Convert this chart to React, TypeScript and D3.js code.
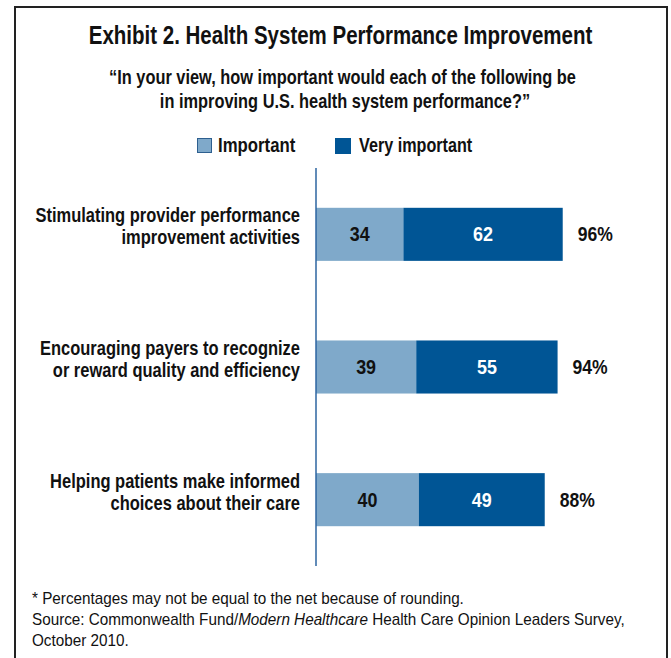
import React from "react";
import * as d3 from "d3";

const categories = [
  ["Stimulating provider performance", "improvement activities"],
  ["Encouraging payers to recognize", "or reward quality and efficiency"],
  ["Helping patients make informed", "choices about their care"],
];
const categoryKeys = ["stim", "encourage", "helping"];
const importantValues = [34, 39, 40];
const veryImportantValues = [62, 55, 49];
const netLabels = ["96%", "94%", "88%"];
const seriesNames = ["Important", "Very important"];

const W = 671;
const H = 658;
const SANS = "'Liberation Sans', Arial, sans-serif";
const LIGHT = "#7fa9ca";
const DARK = "#005595";

type TProps = {
  x: number;
  y: number;
  s?: number;
  size?: number;
  anchor?: "start" | "middle" | "end";
  weight?: string;
  fill?: string;
  children: React.ReactNode;
};

function T({ x, y, s = 0.83, size = 19.5, anchor = "start", weight = "bold", fill = "#111", children }: TProps) {
  return (
    <text
      transform={`translate(${x},${y}) scale(${s},1)`}
      textAnchor={anchor}
      fontFamily={SANS}
      fontWeight={weight}
      fontSize={size}
      fill={fill}
    >
      {children}
    </text>
  );
}

export default function App() {
  const x = d3.scaleLinear().domain([0, 100]).range([316, 573]);
  const y = d3
    .scaleBand<string>()
    .domain(categoryKeys)
    .range([168, 566])
    .paddingInner(0.6)
    .paddingOuter(0.3);
  const bh = y.bandwidth();

  return (
    <svg
      width={W}
      height={H}
      style={{ position: "absolute", left: 0, top: 0, background: "#fff" }}
    >
      <rect x={15} y={7} width={652} height={660} fill="#fff" stroke="#222" strokeWidth={2} />
      <T x={340.5} y={44} size={25} s={0.82} anchor="middle">
        Exhibit 2. Health System Performance Improvement
      </T>
      <T x={342.5} y={84} anchor="middle" s={0.84}>
        “In your view, how important would each of the following be
      </T>
      <T x={345} y={108} anchor="middle" s={0.84}>
        in improving U.S. health system performance?”
      </T>

      {/* legend */}
      <rect x={197.5} y={138.5} width={14} height={14} fill={LIGHT} stroke="#2d5f8f" strokeWidth={1} />
      <T x={218} y={152} s={0.86}>{seriesNames[0]}</T>
      <rect x={335.5} y={138.5} width={15} height={15} fill={DARK} stroke={DARK} strokeWidth={1} />
      <T x={359} y={152}>{seriesNames[1]}</T>

      {categoryKeys.map((k, i) => {
        const y0 = y(k)!;
        const cy = y0 + bh / 2;
        const a = importantValues[i];
        const b = veryImportantValues[i];
        return (
          <g key={k}>
            <rect x={x(0)} y={y0} width={x(a) - x(0)} height={bh} fill={LIGHT} />
            <rect x={x(a)} y={y0} width={x(a + b) - x(a)} height={bh} fill={DARK} />
            <T x={(x(0) + x(a)) / 2} y={cy + 7} s={0.92} anchor="middle">
              {a}
            </T>
            <T x={(x(a) + x(a + b)) / 2} y={cy + 7} s={0.92} anchor="middle" fill="#fff">
              {b}
            </T>
            <T x={x(a + b) + 15} y={cy + 7} s={0.9}>
              {netLabels[i]}
            </T>
            <T x={300} y={cy - 12} anchor="end" s={0.845}>
              {categories[i][0]}
            </T>
            <T x={300} y={cy + 10} anchor="end" s={0.845}>
              {categories[i][1]}
            </T>
          </g>
        );
      })}

      <line x1={316} x2={316} y1={168} y2={566} stroke="#2d64a0" strokeWidth={1.5} />

      <T x={32} y={604} size={16} s={0.955} weight="normal">
        * Percentages may not be equal to the net because of rounding.
      </T>
      <T x={32} y={625} size={16} s={0.955} weight="normal">
        Source: Commonwealth Fund/<tspan fontStyle="italic">Modern Healthcare</tspan> Health Care Opinion Leaders Survey,
      </T>
      <T x={32} y={646} size={16} s={0.955} weight="normal">
        October 2010.
      </T>
    </svg>
  );
}
